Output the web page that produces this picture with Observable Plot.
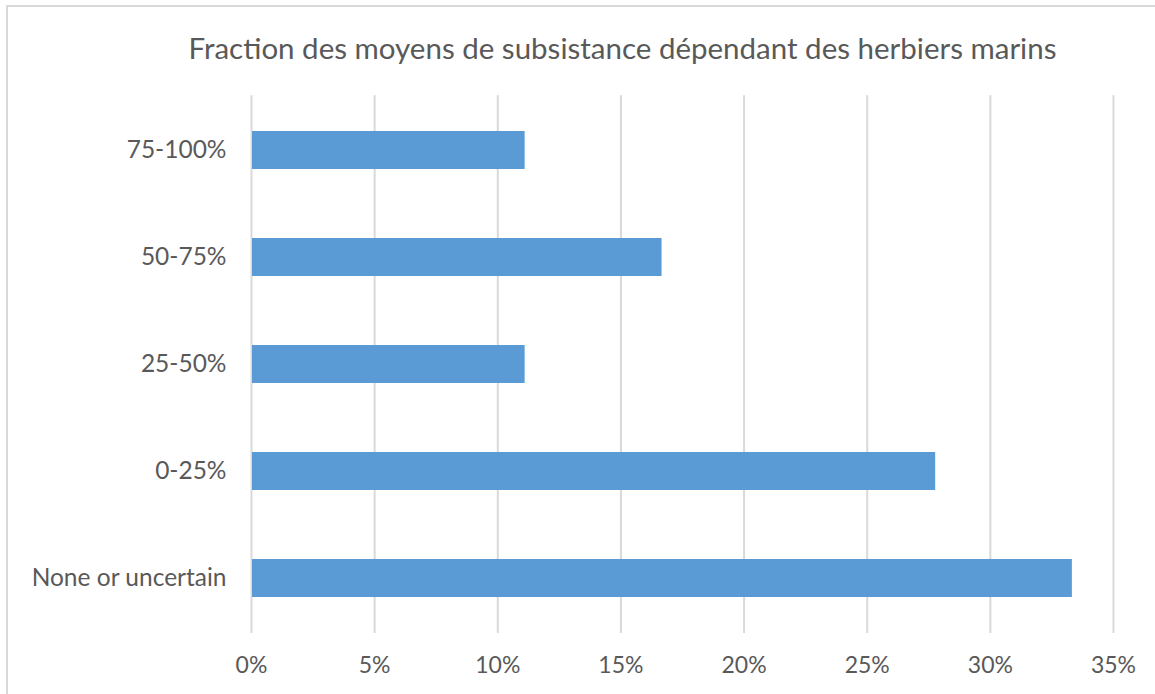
<!DOCTYPE html>
<html>
<head>
<meta charset="utf-8">
<script src="https://cdn.jsdelivr.net/npm/d3@7"></script>
<script src="https://cdn.jsdelivr.net/npm/@observablehq/plot@0.6"></script>
<style>
  html, body { margin: 0; padding: 0; background: #fff; }
  #wrap { position: relative; width: 1155px; height: 694px; overflow: hidden; }
  #frame { position: absolute; left: 6px; top: 5px; width: 1160px; height: 700px; border: 2px solid #d9d9d9; box-sizing: border-box; }
  #title { position: absolute; left: 0; top: 0; width: 1245px; height: 96px; line-height: 96px; text-align: center;
           font-family: Lato, sans-serif; font-size: 29.5px; color: #595959; }
  #chart { position: absolute; left: 0; top: 95px; }
</style>
</head>
<body>
<div id="wrap">
  <div id="frame"></div>
  <div id="title">Fraction des moyens de subsistance dépendant des herbiers marins</div>
  <div id="chart"></div>
</div>
<script>
const categories = ["75-100%", "50-75%", "25-50%", "0-25%", "None or uncertain"];
const values = [0.1111, 0.1667, 0.1111, 0.2778, 0.3333];
const xTicks = [0, 0.05, 0.10, 0.15, 0.20, 0.25, 0.30, 0.35];

const data = categories.map((c, i) => ({category: c, value: values[i]}));

const chart = Plot.plot({
  width: 1155,
  height: 599,
  marginLeft: 251,
  marginRight: 42,
  marginTop: 0.25,
  marginBottom: 61,
  style: {fontFamily: "Lato, sans-serif", fontSize: "22px", color: "#595959", background: "transparent"},
  x: {domain: [0, 0.35], ticks: xTicks, tickFormat: d => Math.round(d * 100) + "%", label: null},
  y: {domain: categories, paddingInner: 0.645, paddingOuter: 0.3225, label: null},
  marks: [
    Plot.gridX(xTicks, {stroke: "#d9d9d9", strokeOpacity: 1, strokeWidth: 2}),
    Plot.barX(data, {x: "value", y: "category", fill: "#5b9bd5", insetLeft: 1}),
    Plot.axisX({ticks: xTicks, tickSize: 0, tickPadding: 23, fontSize: 23, tickFormat: d => Math.round(d * 100) + "%", fill: "#595959", label: null}),
    Plot.axisY({tickSize: 0, tickPadding: 25, fontSize: 24.5, fill: "#595959", label: null})
  ]
});
document.getElementById("chart").appendChild(chart);
</script>
</body>
</html>
